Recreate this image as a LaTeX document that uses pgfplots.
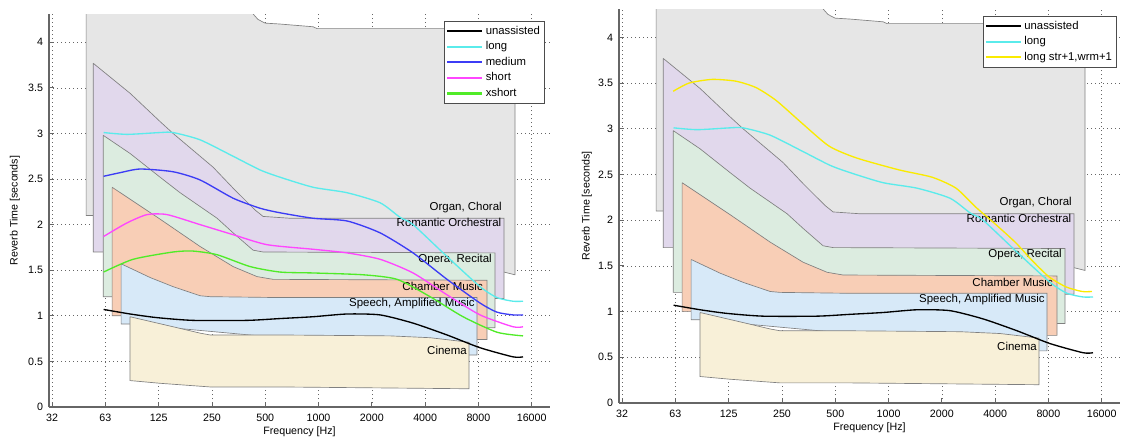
\documentclass[border=0pt]{standalone}
\usepackage{fontspec}
\setmainfont{Liberation Sans}
\usepackage{pgfplots}
\pgfplotsset{compat=1.18}

\definecolor{organ}{RGB}{230,230,230}
\definecolor{romantic}{RGB}{225,216,236}
\definecolor{opera}{RGB}{220,236,224}
\definecolor{chamber}{RGB}{248,206,182}
\definecolor{speech}{RGB}{215,233,248}
\definecolor{cinema}{RGB}{248,240,216}
\definecolor{clong}{RGB}{90,235,235}
\definecolor{cmedium}{RGB}{60,60,245}
\definecolor{cshort}{RGB}{255,70,255}
\definecolor{cxshort}{RGB}{80,235,40}
\definecolor{cyellow}{RGB}{250,235,0}

\newcommand{\smallfont}{\fontsize{8}{9}\selectfont}
\newcommand{\regionfont}{\fontsize{8.6}{10}\selectfont}

\pgfplotsset{
  legend image code/.code={\draw[#1] (0pt,0pt) -- (26pt,0pt);},
  every axis/.append style={
    scale only axis, width=375.75pt,
    xmin=30, xmax=20300, ymin=0, ymax=4.31,
    xtick={31.25,62.5,125,250,500,1000,2000,4000,8000,16000},
    xticklabels={32,63,125,250,500,1000,2000,4000,8000,16000},
    ytick={0,0.5,1,1.5,2,2.5,3,3.5,4},
    yticklabels={0,0.5,1,1.5,2,2.5,3,3.5,4},
    grid=major,
    major grid style={dash pattern=on 0.6pt off 2.4pt, black!60, line width=0.5pt},
    axis x line*=bottom, axis y line*=left,
    axis line style={-, black!60, line width=0.8pt},
    tick style={black!60, line width=0.6pt}, major tick length=3.5pt,
    tick label style={font=\smallfont},
    xticklabel style={yshift=-1.5pt},
    yticklabel style={xshift=-1pt},
    label style={font=\smallfont},
    xlabel={Frequency [Hz]}, ylabel={Reverb Time [seconds]},
    legend cell align=left,
    legend style={font=\fontsize{8.5}{9}\selectfont, draw=black!70, line width=0.6pt,
      inner sep=1.5pt, nodes={inner sep=2pt}},
  },
}

% usage regions, drawn back to front
\newcommand{\regions}{%
  \addplot[draw=black!50, line width=0.5pt, fill=organ, forget plot] coordinates {(48.6,4.8) (420,4.8) (427,4.31) (455,4.25) (499,4.21) (606,4.20) (931,4.17) (981,4.15) (12878,4.15) (12878,1.45) (11160,1.48) (9000,1.55) (60,2.0) (53.3,2.1) (48.6,2.1) (48.6,4.8)};
  \addplot[draw=black!50, line width=0.5pt, fill=romantic, forget plot] coordinates {(53.3,3.77) (86.2,3.44) (127.3,3.13) (150.7,3.0) (253.6,2.63) (329,2.40) (437.9,2.16) (486,2.09) (690,2.07) (11160,2.07) (11160,1.19) (9925,1.19) (60.7,1.70) (53.3,1.70) (53.3,3.77)};
  \addplot[draw=black!50, line width=0.5pt, fill=opera, forget plot] coordinates {(60.7,2.98) (86.2,2.78) (127.3,2.52) (165.1,2.35) (267.2,2.07) (329,1.91) (426.6,1.72) (486,1.70) (9925,1.69) (9925,0.87) (8947,0.87) (68.2,1.21) (60.7,1.21) (60.7,2.98)};
  \addplot[draw=black!50, line width=0.5pt, fill=chamber, forget plot] coordinates {(68.2,2.41) (127.3,2.06) (214.2,1.76) (329,1.54) (449.4,1.43) (553.4,1.40) (8947,1.39) (8947,0.74) (7857,0.74) (76.7,1.0) (68.2,1.0) (68.2,2.41)};
  \addplot[draw=black!50, line width=0.5pt, fill=speech, forget plot] coordinates {(76.7,1.57) (111.8,1.42) (150.7,1.32) (214.2,1.22) (243.9,1.21) (606,1.20) (7857,1.20) (7857,0.57) (7081,0.57) (86,0.91) (76.7,0.91) (76.7,1.57)};
  \addplot[draw=black!50, line width=0.5pt, fill=cinema, forget plot] coordinates {(86,0.99) (150.7,0.88) (214.2,0.81) (243.9,0.79) (606,0.79) (2533,0.78) (4263,0.76) (7081,0.71) (7081,0.20) (606,0.22) (243.9,0.22) (127.3,0.26) (86,0.29) (86,0.99)};
  \node[anchor=east, inner sep=0pt, font=\regionfont] at (axis cs:10875,2.19) {Organ, Choral};
  \node[anchor=east, inner sep=0pt, font=\regionfont] at (axis cs:10800,2.02) {Romantic Orchestral};
  \node[anchor=east, inner sep=0pt, font=\regionfont] at (axis cs:9550,1.62) {Opera, Recital};
  \node[anchor=east, inner sep=0pt, font=\regionfont] at (axis cs:8494,1.32) {Chamber Music};
  \node[anchor=east, inner sep=0pt, font=\regionfont] at (axis cs:7654,1.13) {Speech, Amplified Music};
  \node[anchor=east, inner sep=0pt, font=\regionfont] at (axis cs:6897,0.62) {Cinema};
}

\newcommand{\unassisted}{%
  \addplot[line width=1pt, smooth, tension=0.4, no marks, draw=black, forget plot] coordinates {(61,1.07) (86.2,1.02) (122.4,0.98) (195.5,0.95) (394.7,0.95) (606,0.97) (931,0.99) (1449,1.02) (2225,1.01) (3418,0.92) (5318,0.79) (8170,0.65) (12545,0.55) (14290,0.55)};
}
\newcommand{\longcurve}{%
  \addplot[line width=1pt, smooth, tension=0.4, no marks, draw=clong, forget plot] coordinates {(61,3.01) (82.9,2.99) (127.3,3.01) (150.7,3.01) (214.2,2.93) (329,2.75) (467,2.60) (606,2.52) (931,2.41) (1449,2.35) (2225,2.24) (2886,2.08) (3418,2.0) (5318,1.65) (8170,1.32) (10190,1.20) (12545,1.16) (14290,1.16)};
}

\begin{document}
\begin{tikzpicture}
\useasboundingbox (0,0) rectangle (841.5pt,330pt);

\begin{axis}[xmode=log, log basis x=2, at={(36.75pt,24.75pt)}, anchor=south west, height=294.75pt,
  xlabel style={at={(axis description cs:0.5,-0.064)}, anchor=center},
  ylabel style={at={(axis description cs:-0.068,0.5)}, anchor=center},
  legend style={at={(rel axis cs:0.99,0.982)}, anchor=north east}]
\addlegendimage{line width=1.6pt, draw=black}
\addlegendentry{unassisted}
\addlegendimage{line width=1.6pt, draw=clong}
\addlegendentry{long}
\addlegendimage{line width=1.6pt, draw=cmedium}
\addlegendentry{medium}
\addlegendimage{line width=1.6pt, draw=cshort}
\addlegendentry{short}
\addlegendimage{line width=1.6pt, draw=cxshort}
\addlegendentry{xshort}
\regions
\unassisted
\longcurve
\addplot[line width=1pt, smooth, tension=0.4, no marks, draw=cmedium, forget plot] coordinates {(61,2.53) (75.7,2.57) (98.2,2.61) (150.7,2.58) (214.2,2.49) (329,2.29) (467,2.18) (606,2.13) (931,2.07) (1449,2.04) (2225,1.91) (3418,1.69) (5318,1.40) (8170,1.14) (10190,1.04) (12545,1.01) (14290,1.01)};
\addplot[line width=1pt, smooth, tension=0.4, no marks, draw=cshort, forget plot] coordinates {(61,1.87) (82.9,2.02) (107.5,2.11) (139.4,2.11) (214.2,2.0) (329,1.89) (511.9,1.78) (931,1.73) (1449,1.69) (2225,1.62) (3418,1.47) (5318,1.23) (8170,1.01) (12545,0.88) (14290,0.88)};
\addplot[line width=1pt, smooth, tension=0.4, no marks, draw=cxshort, forget plot] coordinates {(61,1.48) (89.6,1.62) (150.7,1.70) (195.5,1.71) (267.2,1.67) (410.4,1.54) (606,1.48) (931,1.47) (1784,1.45) (2776,1.40) (4263,1.21) (6548,0.99) (10190,0.82) (14290,0.78)};
\end{axis}

\begin{axis}[xmode=log, log basis x=2, at={(464.25pt,27.75pt)}, anchor=south west, height=295.5pt,
  xlabel style={at={(axis description cs:0.5,-0.063)}, anchor=center},
  ylabel style={at={(axis description cs:-0.064,0.5)}, anchor=center},
  legend style={at={(rel axis cs:0.994,0.982)}, anchor=north east}]
\addlegendimage{line width=1.6pt, draw=black}
\addlegendentry{unassisted}
\addlegendimage{line width=1.6pt, draw=clong}
\addlegendentry{long}
\addlegendimage{line width=1.6pt, draw=cyellow}
\addlegendentry{long str+1,wrm+1}
\regions
\unassisted
\longcurve
\addplot[line width=1pt, smooth, tension=0.4, no marks, draw=cyellow, forget plot] coordinates {(60.7,3.41) (74.7,3.50) (100.8,3.54) (137.6,3.52) (178.5,3.45) (231.5,3.31) (324.6,3.06) (461.3,2.81) (660,2.68) (1146,2.55) (1761,2.47) (2405,2.35) (3120,2.14) (4048,1.95) (5250,1.75) (6463,1.56) (8063,1.38) (10056,1.27) (12380,1.22) (14100,1.22)};
\end{axis}
\end{tikzpicture}
\end{document}
